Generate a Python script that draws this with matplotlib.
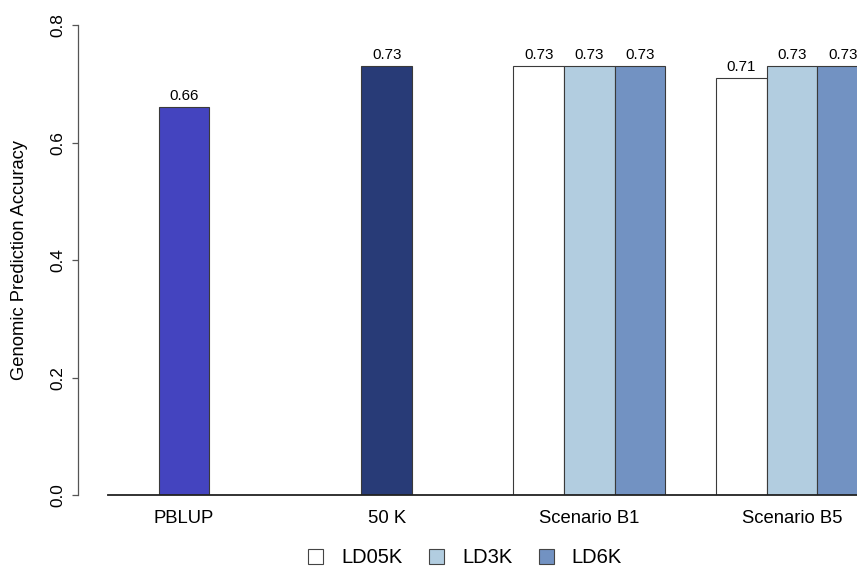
import numpy as np
import matplotlib.pyplot as plt
from matplotlib.patches import Patch

plt.rcParams['font.family'] = ['Liberation Sans', 'DejaVu Sans']

# groups and values (empty slots are 0 in the original barplot)
groups = ['PBLUP', '50 K', 'Scenario B1', 'Scenario B5']
series = ['LD05K', 'LD3K', 'LD6K']
single_vals = [0.66, 0.73]          # PBLUP, 50 K (middle slot)
single_cols = ['#4444BF', '#283B77']
ld05k = [0.73, 0.71]
ld3k = [0.73, 0.73]
ld6k = [0.73, 0.73]
ld_cols = ['#FFFFFF', '#B2CDE0', '#7292C2']

fig = plt.figure(figsize=(8.57, 5.70), dpi=100)
ax = fig.add_axes([78/857, 1 - 495/570, 779/857, (495 - 25.3)/570])

# slot layout like R barplot(beside=TRUE): 3 bars per group, 1 gap
def centre(g, j):
    return 1.5 + 4*g + j

ec = '#3a3a3a'
lw = 0.8
for g, v in enumerate(single_vals):
    b = ax.bar(centre(g, 1), v, width=1, color=single_cols[g], edgecolor=ec, linewidth=lw)
    ax.bar_label(b, labels=[f'{v:.2f}'], padding=3, fontsize=10.9)

scen_vals = [ld05k, ld3k, ld6k]
for s in range(3):
    for k in range(2):
        g = k + 2
        v = scen_vals[s][k]
        b = ax.bar(centre(g, s), v, width=1, color=ld_cols[s], edgecolor=ec, linewidth=lw)
        ax.bar_label(b, labels=[f'{v:.2f}'], padding=3, fontsize=10.9)

ax.axhline(0, xmin=(1 - 0.408)/(15.78 - 0.408), color='#222222', lw=1.3, clip_on=False, zorder=3)

ax.set_xlim(0.408, 15.78)
ax.set_ylim(0, 0.8)
for sp in ['top', 'right', 'bottom']:
    ax.spines[sp].set_visible(False)
ax.spines['left'].set_bounds(0, 0.8)
ax.spines['left'].set_color('#555555')
ax.spines['left'].set_linewidth(0.9)

ax.set_yticks(np.arange(0, 0.81, 0.2))
ax.set_yticklabels(['0.0', '0.2', '0.4', '0.6', '0.8'], rotation=90, va='center')
ax.tick_params(axis='y', length=4.3, width=0.9, color='#555555', pad=5, labelsize=12.4)
ax.set_xticks([centre(g, 1) for g in range(4)])
ax.set_xticklabels(groups)
ax.tick_params(axis='x', length=0, pad=11, labelsize=13.3)

ax.set_ylabel('Genomic Prediction Accuracy', fontsize=13.2, va='center')
ax.yaxis.set_label_coords((20 - 78)/779, 0.5)

handles = [Patch(facecolor=c, edgecolor='#444444', linewidth=0.8) for c in ld_cols]
ax.legend(handles, series, loc='center', bbox_to_anchor=(0.497, (495 - 558)/470),
          ncol=3, frameon=False, fontsize=14.5, handlelength=0.75, handleheight=0.75,
          handletextpad=0.9, columnspacing=1.3, borderpad=0, borderaxespad=0)

fig.savefig('out.png', dpi=100)
